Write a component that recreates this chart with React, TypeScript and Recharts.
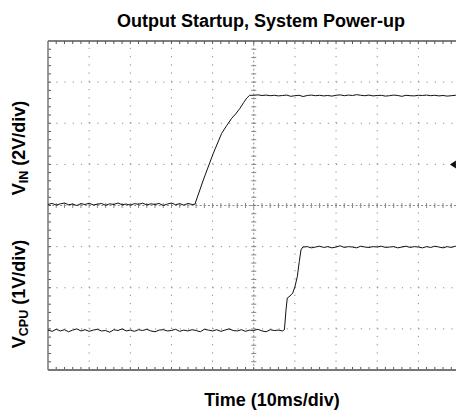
import React from 'react';
import { ComposedChart, Line, XAxis, YAxis, ReferenceLine, ReferenceDot } from 'recharts';

// ---- Data (time in ms, 10 ms/div) ----
const vinTime = [
  0, 1, 2, 3, 4, 5, 6, 7, 8, 9, 10, 11, 12, 13, 14, 15, 16, 17, 18, 19, 20, 21, 22, 23, 24, 25, 26, 27, 28, 29, 30, 31, 32, 33, 34, 35,
  35.7, 37.74, 40.17, 42.21, 43.4, 44.64, 45.6, 46.66, 47.6, 48.29, 49.0,
  50, 51, 52, 53, 54, 55, 56, 57, 58, 59, 60, 61, 62, 63, 64, 65, 66, 67, 68, 69, 70, 71, 72, 73, 74, 75, 76, 77, 78, 79,
  80, 81, 82, 83, 84, 85, 86, 87, 88, 89, 90, 91, 92, 93, 94, 95, 96, 97, 98, 99, 100,
];
// VIN in volts (2 V/div)
const vinVolts = [
  0.05, 0.10, 0.02, 0.08, 0.12, 0.04, 0.07, 0.00, 0.09, 0.05, 0.11, 0.03, 0.06, 0.10, 0.01, 0.08, 0.05, 0.12, 0.04, 0.07,
  0.02, 0.09, 0.06, 0.11, 0.03, 0.08, 0.05, 0.10, 0.00, 0.07, 0.12, 0.04, 0.09, 0.02, 0.10, 0.05,
  0.06, 1.24, 2.54, 3.51, 3.88, 4.24, 4.45, 4.73, 5.02, 5.22, 5.36,
  5.36, 5.38, 5.35, 5.37, 5.34, 5.36, 5.33, 5.35, 5.37, 5.31,
  5.34, 5.36, 5.30, 5.35, 5.37, 5.34, 5.36, 5.33, 5.35, 5.32,
  5.36, 5.38, 5.34, 5.37, 5.35, 5.39, 5.36, 5.34, 5.37, 5.33,
  5.35, 5.36, 5.32, 5.34, 5.37, 5.35, 5.31, 5.36, 5.34, 5.33,
  5.36, 5.35, 5.37, 5.34, 5.36, 5.33, 5.35, 5.32, 5.34, 5.36,
  5.35,
];

const cpuTime = [
  0, 1, 2, 3, 4, 5, 6, 7, 8, 9, 10, 11, 12, 13, 14, 15, 16, 17, 18, 19, 20, 21, 22, 23, 24, 25, 26, 27, 28, 29,
  30, 31, 32, 33, 34, 35, 36, 37, 38, 39, 40, 41, 42, 43, 44, 45, 46, 47, 48, 49, 50, 51, 52, 53, 54, 55, 56, 57,
  57.45, 57.84, 58.15, 58.81, 59.47, 60.02, 60.58, 61.07, 61.48, 61.9,
  62, 63, 64, 65, 66, 67, 68, 69, 70, 71, 72, 73, 74, 75, 76, 77, 78, 79, 80, 81,
  82, 83, 84, 85, 86, 87, 88, 89, 90, 91, 92, 93, 94, 95, 96, 97, 98, 99, 100,
];
// VCPU in volts (1 V/div)
const cpuVolts = [
  -0.03, -0.06, -0.01, -0.05, -0.02, -0.07, -0.03, 0.00, -0.05, -0.02,
  -0.06, -0.03, -0.01, -0.05, -0.04, -0.08, -0.02, -0.04, 0.00, -0.05,
  -0.03, -0.06, -0.02, -0.04, -0.01, -0.05, -0.07, -0.03, -0.02, -0.05,
  -0.04, -0.01, -0.06, -0.03, -0.05, -0.02, -0.04, -0.07, -0.01, -0.03,
  -0.05, -0.02, -0.06, -0.03, 0.00, -0.04, -0.05, -0.02, -0.06, -0.03,
  -0.04, -0.01, -0.05, -0.07, -0.02, -0.04, -0.03, -0.05,
  -0.02, 0.46, 0.75, 0.80, 0.87, 1.03, 1.27, 1.64, 1.92, 1.99,
  1.99, 2.00, 1.97, 1.99, 2.01, 1.98, 2.00, 1.97, 1.99, 2.02,
  1.98, 2.00, 1.99, 1.97, 2.01, 1.99, 1.98, 2.00, 1.99, 2.01,
  1.98, 1.99, 2.00, 1.97, 1.99, 2.01, 1.98, 2.00, 1.99, 1.97,
  2.00, 1.98, 2.01, 1.99, 1.97, 2.00, 1.98, 2.01, 1.99,
];

// Screen scales
const timeDomain: [number, number] = [0, 100];
const vinDomain: [number, number] = [-8, 8];
const cpuDomain: [number, number] = [-1, 7];
const majorTimes = [10, 20, 30, 40, 60, 70, 80, 90];
const majorVin = [-6, -4, -2, 2, 4, 6];
const triggerTime = 98.4;
const triggerLevel = 2;

const vinData = vinTime.map((t, i) => ({ t, v: vinVolts[i] }));
const cpuData = cpuTime.map((t, i) => ({ t, v: cpuVolts[i] }));

// minor divisions (5 per division)
const minorTimes: number[] = [];
for (let k = 1; k < 50; k++) minorTimes.push(k * 2);
const minorVin: number[] = [];
for (let k = 1; k < 40; k++) minorVin.push(-8 + k * 0.4);

const W = 470;
const H = 416;
const M = { top: 41, right: 10.5, bottom: 46, left: 48 };
const pxT = (timeDomain[1] - timeDomain[0]) / (W - M.left - M.right);
const pxV = (vinDomain[1] - vinDomain[0]) / (H - M.top - M.bottom);

const GRID = '#8a8a8a';
const BORDER = '#555';
const TRACE = '#111';
const FONT = '"Liberation Sans", Arial, Helvetica, sans-serif';

const Trigger = (p: any) => (
  <path d={`M${p.cx - 3},${p.cy} L${p.cx + 3},${p.cy - 4} L${p.cx + 3},${p.cy + 4} Z`} fill="#111" />
);

export default function App() {
  const tl = 2.5 * pxT;
  const vl = 2.5 * pxV;
  return (
    <div style={{ position: 'absolute', left: 0, top: 0, width: 456, height: 416, overflow: 'hidden', background: '#fff' }}>
      <ComposedChart width={W} height={H} margin={M}>
        <XAxis xAxisId="t" type="number" dataKey="t" domain={timeDomain} hide allowDataOverflow />
        <YAxis yAxisId="vin" type="number" domain={vinDomain} hide allowDataOverflow />
        <YAxis yAxisId="cpu" type="number" domain={cpuDomain} hide allowDataOverflow />

        {majorTimes.map((x) => (
          <ReferenceLine key={'gx' + x} xAxisId="t" yAxisId="vin" x={x} stroke={GRID} strokeWidth={1} strokeDasharray="1.2 7.03" />
        ))}
        {majorVin.map((y) => (
          <ReferenceLine key={'gy' + y} xAxisId="t" yAxisId="vin" y={y} stroke={GRID} strokeWidth={1} strokeDasharray="1.2 7.03" />
        ))}
        <ReferenceLine xAxisId="t" yAxisId="vin" x={50} stroke={GRID} strokeWidth={1} strokeDasharray="2 2.1" />
        <ReferenceLine xAxisId="t" yAxisId="vin" y={0} stroke={GRID} strokeWidth={1} strokeDasharray="2 2.1" />

        {minorTimes.map((x) => (
          <ReferenceLine key={'ct' + x} xAxisId="t" yAxisId="vin" stroke={GRID} strokeWidth={1}
            segment={[{ x, y: -vl }, { x, y: vl }]} />
        ))}
        {minorVin.map((y) => (
          <ReferenceLine key={'cv' + y} xAxisId="t" yAxisId="vin" stroke={GRID} strokeWidth={1}
            segment={[{ x: 50 - tl, y }, { x: 50 + tl, y }]} />
        ))}
        {minorTimes.map((x) => (
          <ReferenceLine key={'tt' + x} xAxisId="t" yAxisId="vin" stroke={BORDER} strokeWidth={1}
            segment={[{ x, y: 8 }, { x, y: 8 - 1.2 * vl }]} />
        ))}
        {minorTimes.map((x) => (
          <ReferenceLine key={'bt' + x} xAxisId="t" yAxisId="vin" stroke={BORDER} strokeWidth={1}
            segment={[{ x, y: -8 }, { x, y: -8 + 1.2 * vl }]} />
        ))}
        {minorVin.map((y) => (
          <ReferenceLine key={'lt' + y} xAxisId="t" yAxisId="vin" stroke={BORDER} strokeWidth={1}
            segment={[{ x: 0, y }, { x: 1.2 * tl, y }]} />
        ))}

        <ReferenceLine xAxisId="t" yAxisId="vin" y={8} stroke={BORDER} strokeWidth={1.5} />
        <ReferenceLine xAxisId="t" yAxisId="vin" y={-8} stroke="#777" strokeWidth={1.8} />
        <ReferenceLine xAxisId="t" yAxisId="vin" x={0} stroke="#777" strokeWidth={1.5} />

        <Line xAxisId="t" yAxisId="vin" data={vinData} dataKey="v" type="linear" stroke={TRACE} strokeWidth={1}
          dot={false} activeDot={false} isAnimationActive={false} />
        <Line xAxisId="t" yAxisId="cpu" data={cpuData} dataKey="v" type="linear" stroke={TRACE} strokeWidth={1}
          dot={false} activeDot={false} isAnimationActive={false} />

        <ReferenceDot xAxisId="t" yAxisId="vin" x={triggerTime} y={triggerLevel} r={4} shape={Trigger} />
      </ComposedChart>
      <svg width={456} height={416} style={{ position: 'absolute', left: 0, top: 0, pointerEvents: 'none' }}>
        <text x={261} y={27} textAnchor="middle" fontFamily={FONT} fontWeight="bold" fontSize={18} fill="#000">
          Output Startup, System Power-up
        </text>
        <text x={272} y={406} textAnchor="middle" fontFamily={FONT} fontWeight="bold" fontSize={18} fill="#000">
          Time (10ms/div)
        </text>
        <text transform="translate(25,148) rotate(-90)" textAnchor="middle" fontFamily={FONT} fontWeight="bold" fontSize={18} fill="#000">
          V<tspan dy={3} fontSize={12.5}>IN</tspan><tspan dy={-3}> (2V/div)</tspan>
        </text>
        <text transform="translate(25,294) rotate(-90)" textAnchor="middle" fontFamily={FONT} fontWeight="bold" fontSize={18} fill="#000">
          V<tspan dy={3} fontSize={12.5}>CPU</tspan><tspan dy={-3}> (1V/div)</tspan>
        </text>
      </svg>
    </div>
  );
}
